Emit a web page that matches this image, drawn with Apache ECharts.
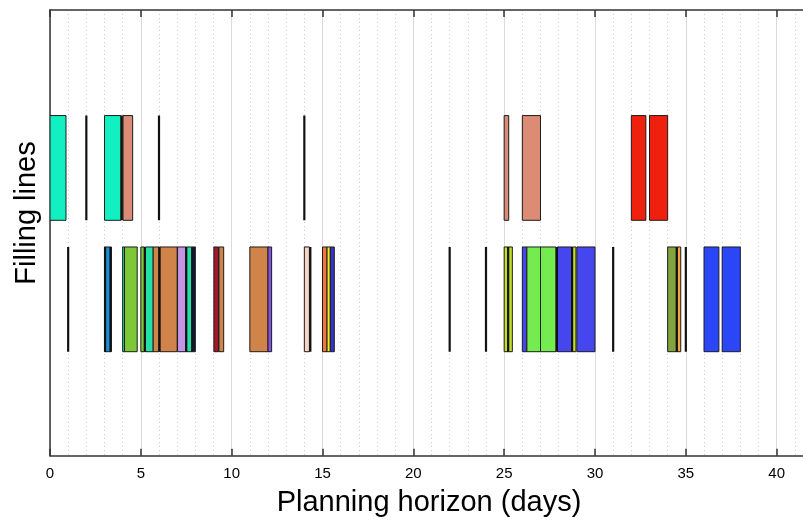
<!DOCTYPE html>
<html>
<head>
<meta charset="utf-8">
<script src="https://cdn.jsdelivr.net/npm/echarts@6/dist/echarts.min.js"></script>
<style>
html,body{margin:0;padding:0;background:#fff;}
#chart{width:803px;height:521px;}
</style>
</head>
<body>
<div id="chart"></div>
<script>
// ---- data ----
const xTickLabels = [0, 5, 10, 15, 20, 25, 30, 35, 40];
const lineNames = ['Line 1', 'Line 2']; // bottom row = Line 1 (y=1), top row = Line 2 (y=2)

// production runs: [start day, end day, product]
const line2Runs = [
  [0.0, 0.88, 'A'], [3.0, 3.9, 'A'], [4.02, 4.55, 'B'],
  [25.0, 25.25, 'B'], [26.0, 27.0, 'B'],
  [32.0, 32.8, 'C'], [33.0, 34.0, 'C']
];
const line1Runs = [
  [3.0, 3.38, 'D'],
  [4.0, 4.1, 'E'], [4.1, 4.8, 'F'],
  [5.0, 5.2, 'F'], [5.25, 5.68, 'E'], [5.68, 6.0, 'G'], [6.05, 7.0, 'G'],
  [7.02, 7.48, 'H'], [7.5, 7.8, 'E'], [7.8, 8.0, 'I'],
  [9.02, 9.28, 'J'], [9.3, 9.56, 'G'],
  [11.0, 12.0, 'G'], [12.0, 12.2, 'K'],
  [14.0, 14.28, 'L'],
  [15.0, 15.25, 'M'], [15.25, 15.43, 'N'], [15.43, 15.65, 'O'],
  [25.0, 25.45, 'P'],
  [26.0, 26.25, 'Q'], [26.25, 27.0, 'R'], [27.0, 27.85, 'R'],
  [27.93, 28.73, 'Q'], [28.75, 28.95, 'P'], [29.0, 30.0, 'Q'],
  [34.0, 34.5, 'S'], [34.52, 34.72, 'T'],
  [36.0, 36.82, 'U'], [37.0, 38.0, 'U']
];
// changeovers / zero-length events (day)
const line2Events = [2, 3.95, 6, 14];
const line1Events = [1, 3.03, 3.33, 5.22, 6.02, 7.5, 14.33, 22, 24, 25.22, 27.9, 28.74, 31, 34.5, 35];

// ---- styles ----
const productColors = {
  A: '#12f0c2', B: '#dc8c74', C: '#f0200f', D: '#1a8fd6', E: '#22e0a6',
  F: '#7cc836', G: '#d0844a', H: '#c494e6', I: '#15182a', J: '#a3182c',
  K: '#8552e6', L: '#f8d4c4', M: '#f07444', N: '#f2ec10', O: '#3232d2',
  P: '#c2e020', Q: '#4646ee', R: '#74ec50', S: '#82a43e', T: '#f4a444',
  U: '#2a46f6'
};
const BAR_H = 0.797;

const barData = [];
line1Runs.forEach(r => barData.push({ value: [r[0], r[1], 1], product: r[2] }));
line2Runs.forEach(r => barData.push({ value: [r[0], r[1], 2], product: r[2] }));
const evData = [];
line1Events.forEach(d => evData.push([d, 1]));
line2Events.forEach(d => evData.push([d, 2]));

const chart = echarts.init(document.getElementById('chart'), null, { renderer: 'canvas' });
const axisColor = '#333';
const font = '"Liberation Sans", Arial, sans-serif';

chart.setOption({
  animation: false,
  backgroundColor: '#fff',
  grid: { left: 50, top: 10, width: 817.5, height: 445.7, containLabel: false, outerBoundsMode: 'none' },
  xAxis: [{
    type: 'value', min: 0, max: 45, interval: 5, position: 'bottom',
    axisLine: { show: true, onZero: false, lineStyle: { color: axisColor, width: 1.5 } },
    axisTick: { show: true, inside: true, length: 7, lineStyle: { color: axisColor, width: 1.5 } },
    axisLabel: {
      show: true, fontSize: 15, color: '#000', margin: 11, fontFamily: font,
      formatter: v => (xTickLabels.indexOf(v) >= 0 ? String(v) : '')
    },
    splitLine: { show: true, lineStyle: { color: '#dadada', width: 1 } },
    minorTick: { show: false, splitNumber: 5 },
    minorSplitLine: { show: true, lineStyle: { color: '#cfcfcf', width: 1, type: [1, 3] } }
  }, {
    type: 'value', min: 0, max: 45, interval: 5, position: 'top',
    axisLine: { show: true, onZero: false, lineStyle: { color: axisColor, width: 1.5 } },
    axisTick: { show: true, inside: true, length: 7, lineStyle: { color: axisColor, width: 1.5 } },
    axisLabel: { show: false },
    splitLine: { show: false }
  }],
  yAxis: {
    type: 'value', min: -0.19, max: 3.202,
    axisLine: { show: true, onZero: false, lineStyle: { color: axisColor, width: 1.5 } },
    axisTick: { show: false }, axisLabel: { show: false }, splitLine: { show: false }
  },
  graphic: [{
    type: 'text', x: 429, y: 503,
    style: { text: 'Planning horizon (days)', font: '29px ' + font, fill: '#000',
      textAlign: 'center', textVerticalAlign: 'middle' }
  }, {
    type: 'text', x: 27, y: 213, rotation: Math.PI / 2,
    style: { text: 'Filling lines', font: '29px ' + font, fill: '#000',
      textAlign: 'center', textVerticalAlign: 'middle' }
  }],
  series: [{
    type: 'custom',
    clip: true,
    z: 2,
    data: barData,
    encode: { x: [0, 1], y: 2 },
    renderItem: function (params, api) {
      const s = api.value(0), e = api.value(1), row = api.value(2);
      const p0 = api.coord([s, row]);
      const p1 = api.coord([e, row]);
      const h = api.size([0, BAR_H])[1];
      const prod = barData[params.dataIndex].product;
      return {
        type: 'rect',
        shape: { x: p0[0], y: p0[1] - h / 2, width: p1[0] - p0[0], height: h },
        style: { fill: productColors[prod], stroke: '#1c1c1c', lineWidth: 1 }
      };
    }
  }, {
    type: 'custom',
    clip: true,
    z: 3,
    data: evData,
    encode: { x: 0, y: 1 },
    renderItem: function (params, api) {
      const p = api.coord([api.value(0), api.value(1)]);
      const h = api.size([0, BAR_H])[1];
      return {
        type: 'rect',
        shape: { x: p[0] - 1.1, y: p[1] - h / 2, width: 2.2, height: h },
        style: { fill: '#111' }
      };
    }
  }]
});
</script>
</body>
</html>
